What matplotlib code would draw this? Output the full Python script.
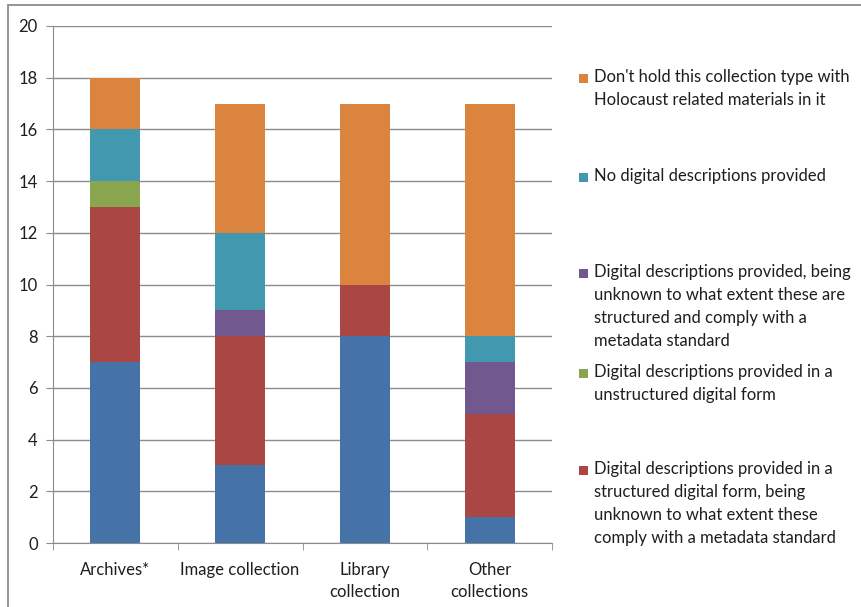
import numpy as np
import matplotlib.pyplot as plt
from matplotlib.patches import Rectangle

plt.rcParams['font.family'] = ['Lato', 'DejaVu Sans']

# data
categories = ['Archives*', 'Image collection', 'Library\ncollection', 'Other\ncollections']
blue = [7, 3, 8, 1]
red = [6, 5, 2, 4]
green = [1, 0, 0, 0]
purple = [0, 1, 0, 2]
teal = [2, 3, 0, 1]
orange = [2, 5, 7, 9]

series = [blue, red, green, purple, teal, orange]
colors = ['#4572A7', '#AA4643', '#89A54E', '#71588F', '#4198AF', '#DB843D']
labels = [
    'Digital descriptions provided in a structured digital form\n(blue entry, cut off)',
    'Digital descriptions provided in a\nstructured digital form, being\nunknown to what extent these\ncomply with a metadata standard',
    'Digital descriptions provided in a\nunstructured digital form',
    'Digital descriptions provided, being\nunknown to what extent these are\nstructured and comply with a\nmetadata standard',
    'No digital descriptions provided',
    "Don't hold this collection type with\nHolocaust related materials in it",
]
yticks = [0, 2, 4, 6, 8, 10, 12, 14, 16, 18, 20]

W, H = 861, 607
fig = plt.figure(figsize=(W / 100, H / 100), dpi=100)

# outer chart frame (cropped at right and bottom)
fig.patches.append(Rectangle((8 / W, -0.1), 2, 1 - 5 / H + 0.1, transform=fig.transFigure,
                             fill=False, edgecolor='#8c8c8c', linewidth=1.3))

ax = fig.add_axes([53 / W, 1 - 543 / H, 499 / W, 517 / H])
x = np.arange(len(categories))
bottom = np.zeros(len(categories))
for vals, c in zip(series, colors):
    ax.bar(x, vals, width=0.4, bottom=bottom, color=c, zorder=3)
    bottom += np.array(vals)

ax.set_xlim(-0.5, 3.5)
ax.set_ylim(0, 20)
ax.set_yticks(yticks)
ax.yaxis.grid(True, color='#8c8c8c', linewidth=1, zorder=0)
for s in ['top', 'right']:
    ax.spines[s].set_visible(False)
for s in ['left', 'bottom']:
    ax.spines[s].set_color('#8c8c8c')
ax.set_xticks(x)
ax.set_xticklabels(categories, fontsize=12, color='#1e1e1e', linespacing=1.4)
ax.set_xticks(np.arange(-0.5, 4, 1), minor=True)
ax.tick_params(axis='x', which='major', length=0, pad=14)
ax.tick_params(axis='x', which='minor', length=5, color='#8c8c8c')
ax.tick_params(axis='y', length=5, color='#8c8c8c', labelsize=12, labelcolor='#1e1e1e', pad=6)

# legend drawn by hand (the bottom entry is cut off in the reference)
legend_y = [78, 177, 273, 373, 470]
order = [5, 4, 3, 2, 1]
for yy, i in zip(legend_y, order):
    fig.patches.append(Rectangle((579 / W, 1 - (yy + 5) / H), 9 / W, 9 / H,
                                 transform=fig.transFigure, facecolor=colors[i], edgecolor='none'))
    fig.text(594 / W, 1 - (yy - 9) / H, labels[i], fontsize=12, color='#1e1e1e',
             va='top', ha='left', linespacing=1.55)

fig.savefig('out.png', dpi=100, facecolor='white')
